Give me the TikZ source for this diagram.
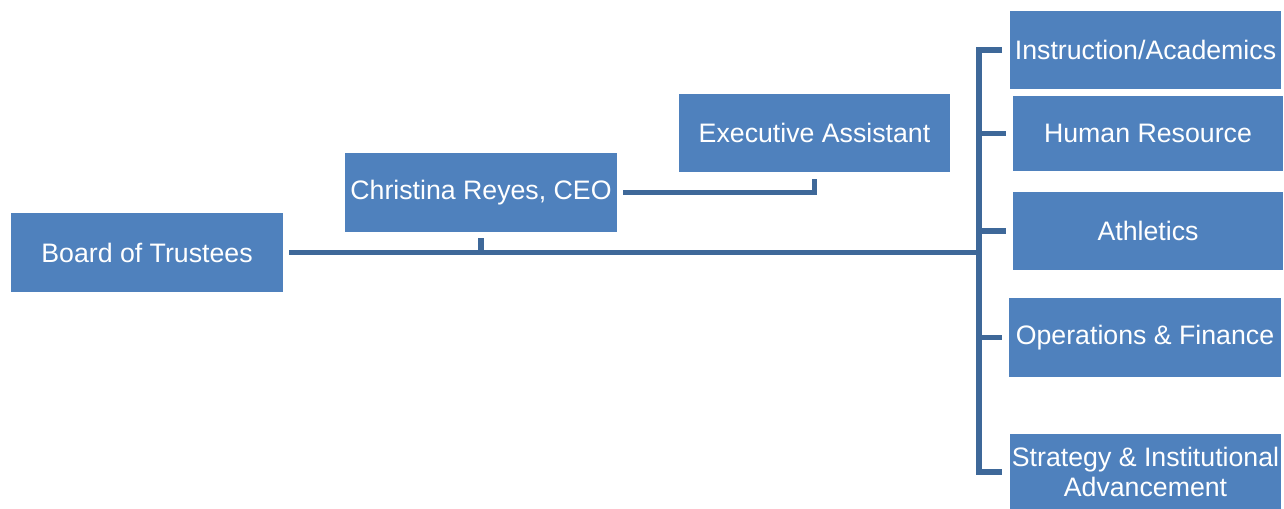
\documentclass[tikz,border=0pt]{standalone}
\usepackage{fontspec}
\setmainfont{Liberation Sans}
\usepackage{xcolor}
\definecolor{unitblue}{RGB}{79,129,189}
\definecolor{linkblue}{RGB}{62,104,153}

\begin{document}
\begin{tikzpicture}[x=0.02cm, y=-0.02cm,
    unit/.style={fill=unitblue, text=white, inner sep=0pt, align=center,
                 minimum width=5.44cm, minimum height=1.58cm,
                 font=\fontsize{15.2}{16.6}\selectfont},
    link/.style={linkblue, line width=0.11cm}]
    \useasboundingbox (0,0) rectangle (1284,509);

    % Boxes
    \node[unit] (board) at (147,252.5) {Board of Trustees};
    \node[unit] (ceo) at (481,192.5) {Christina Reyes, CEO};
    \node[unit, minimum width=5.42cm, minimum height=1.56cm] (ea) at (814.5,133) {Executive Assistant};

    \node[unit] (instr) at (1145.5,50) {Instruction/Academics};
    \node[unit, minimum width=5.4cm, minimum height=1.52cm] (hr) at (1148,133.5) {Human Resource};
    \node[unit, minimum width=5.4cm, minimum height=1.56cm] (ath) at (1148,231) {Athletics};
    \node[unit] (ops) at (1145,337.5) {Operations \& Finance};
    \node[unit, minimum height=1.52cm] (strat) at (1145.5,472) {Strategy \& Institutional\\Advancement};

    \coordinate (spine) at (979,252.5);

    % Connectors
    \draw[link, shorten <=0.12cm] (board.east) -- (spine);
    \draw[link, shorten <=0.12cm] (ceo.south) -- (ceo.south |- spine);
    \draw[link, shorten <=0.12cm, shorten >=0.14cm] (ceo.east) -| (ea.south);
    \draw[link, shorten <=0.14cm, shorten >=0.14cm] (instr.west) -| (spine) |- (strat.west);
    \draw[link, shorten >=0.14cm] (hr.west -| spine) -- (hr.west);
    \draw[link, shorten >=0.14cm] (ath.west -| spine) -- (ath.west);
    \draw[link, shorten >=0.14cm] (ops.west -| spine) -- (ops.west);
\end{tikzpicture}
\end{document}
